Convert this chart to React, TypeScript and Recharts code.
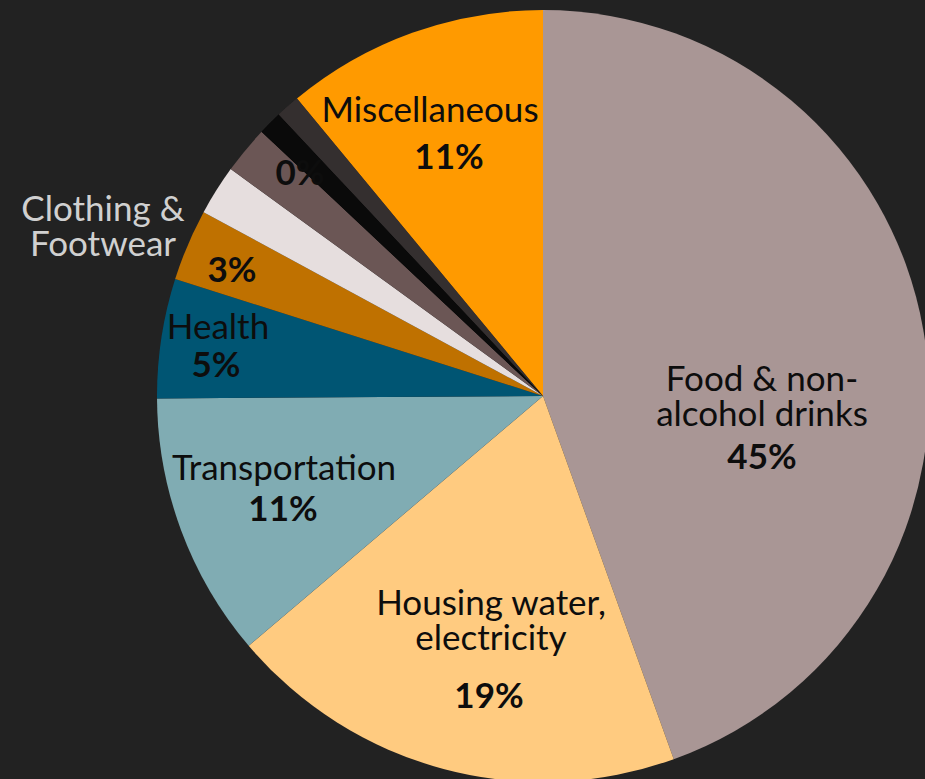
import { Cell, Pie, PieChart } from "recharts";

// Household spending shares, clockwise from 12 o'clock
const categories = [
  "Food & non-alcohol drinks",
  "Housing water, electricity",
  "Transportation",
  "Health",
  "Education",
  "Clothing & Footwear",
  "Alcohol & tobacco",
  "Communication",
  "Recreation",
  "Miscellaneous",
];
const shares = [44.5, 19.3, 11.1, 5.0, 3.0, 2.1, 2.0, 1.0, 1.0, 11.0];
const nameLabels = [
  ["Food & non-", "alcohol drinks"],
  ["Housing water,", "electricity"],
  ["Transportation"],
  ["Health"],
  [],
  ["Clothing &", "Footwear"],
  [],
  [],
  [],
  ["Miscellaneous"],
];
const pctLabels = ["45%", "19%", "11%", "5%", "3%", "", "0%", "", "", "11%"];

const COLORS = [
  "#A99695",
  "#FFCB80",
  "#80ACB3",
  "#005573",
  "#BF7100",
  "#E6DEDE",
  "#6B5655",
  "#0A0A0A",
  "#342F2F",
  "#FF9A00",
];

const BG = "#222222";
const TEXT_DARK = "#0D0D0D";
const TEXT_LIGHT = "#D0D0D0";
const FONT = "Lato, 'Open Sans', sans-serif";
const FONT_SIZE = 35;
const LINE_STEP = 35;

// label anchors, pixel offsets from pie centre (name = first line centre)
const LABEL_LAYOUT = [
  { nx: 219, ny: -19, px: 219, py: 59 },
  { nx: -52, ny: 205, px: -54, py: 298 },
  { nx: -259, ny: 70, px: -260, py: 111 },
  { nx: -325, ny: -71, px: -327, py: -33 },
  { nx: 0, ny: 0, px: -311, py: -128 },
  { nx: -440, ny: -189, px: 0, py: 0 },
  { nx: 0, ny: 0, px: -243, py: -225 },
  { nx: 0, ny: 0, px: 0, py: 0 },
  { nx: 0, ny: 0, px: 0, py: 0 },
  { nx: -113, ny: -288, px: -94, py: -241 },
];

const data = categories.map((name, i) => ({ name, value: shares[i] }));

function renderLabel(props: any) {
  const { cx, cy, index } = props;
  const layout = LABEL_LAYOUT[index];
  const lines = nameLabels[index];
  const pct = pctLabels[index];
  const color = index === 5 ? TEXT_LIGHT : TEXT_DARK;
  const nx = cx + layout.nx;
  return (
    <g key={`lbl-${index}`}>
      {lines.length > 0 && (
        <text
          x={nx}
          y={cy + layout.ny}
          textAnchor="middle"
          dominantBaseline="central"
          fill={color}
          fontFamily={FONT}
          fontSize={FONT_SIZE}
        >
          {lines.map((line, j) => (
            <tspan key={j} x={nx} dy={j === 0 ? 0 : LINE_STEP}>
              {line}
            </tspan>
          ))}
        </text>
      )}
      {pct && (
        <text
          x={cx + layout.px}
          y={cy + layout.py}
          textAnchor="middle"
          dominantBaseline="central"
          fill={TEXT_DARK}
          fontFamily={FONT}
          fontSize={FONT_SIZE}
          fontWeight="bold"
        >
          {pct}
        </text>
      )}
    </g>
  );
}

export default function App() {
  return (
    <div
      style={{
        position: "absolute",
        left: 0,
        top: 0,
        width: 925,
        height: 779,
        background: BG,
        overflow: "hidden",
      }}
    >
      <PieChart
        width={925}
        height={779}
        margin={{ top: 0, right: 0, bottom: 0, left: 0 }}
      >
        <Pie
          data={data}
          dataKey="value"
          cx={543}
          cy={396}
          outerRadius={386}
          startAngle={90}
          endAngle={-270}
          stroke="none"
          label={renderLabel}
          labelLine={false}
          isAnimationActive={false}
        >
          {data.map((d, i) => (
            <Cell key={d.name} fill={COLORS[i]} />
          ))}
        </Pie>
        {/* thin dark slices redrawn on top so they cover the "0%" label */}
        <Pie
          data={data}
          dataKey="value"
          cx={543}
          cy={396}
          outerRadius={386}
          startAngle={90}
          endAngle={-270}
          stroke="none"
          isAnimationActive={false}
        >
          {data.map((d, i) => (
            <Cell
              key={d.name}
              fill={i === 7 || i === 8 ? COLORS[i] : "transparent"}
            />
          ))}
        </Pie>
      </PieChart>
    </div>
  );
}
